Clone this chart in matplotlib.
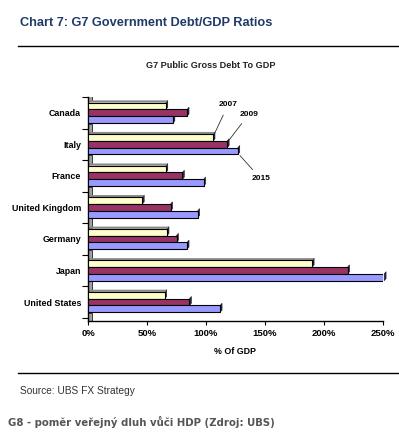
import numpy as np
import matplotlib
matplotlib.use('Agg')
import matplotlib.pyplot as plt
from matplotlib.patches import Polygon, Rectangle

# data (% of GDP)
countries = ['Canada', 'Italy', 'France', 'United Kingdom', 'Germany', 'Japan', 'United States']
debt_2007 = [66, 106, 66, 46, 67, 190, 65]
debt_2009 = [84, 118, 80, 70, 75, 220, 86]
debt_2015 = [72, 127, 98, 93, 84, 251, 112]
years = ['2007', '2009', '2015']
x_ticks = [0, 50, 100, 150, 200, 250]

colors = ['#FFFFCC', '#993366', '#9999FF']
narrow = ['Liberation Sans Narrow', 'Liberation Sans', 'DejaVu Sans']

fig = plt.figure(figsize=(3.99, 4.33), dpi=100)
W, H = 399, 433

def fx(px):
    return px / W

def fy(py):
    return 1 - py / H

# header
fig.text(fx(20), fy(23), 'Chart 7: G7 Government Debt/GDP Ratios', family=narrow,
         fontsize=9.2, fontweight='bold', color='#1F3A68', va='center', ha='left')
fig.add_artist(plt.Line2D([fx(18), 1], [fy(46), fy(46)], color='black', lw=1))
fig.text(fx(211), fy(65), 'G7 Public Gross Debt To GDP', family=narrow,
         fontsize=6.6, fontweight='bold', color='#222222', va='center', ha='center')

ax = fig.add_axes([fx(88), fy(321), fx(295), (321 - 97) / H])

bh = 0.215
y = np.arange(len(countries))
series = [debt_2007, debt_2009, debt_2015]
dx, dy = 1.6, 0.07
for i, vals in enumerate(series):
    ys = y + (i - 1) * bh
    ax.barh(ys, vals, height=bh, color=colors[i], edgecolor='black', lw=0.8, zorder=3)
    for yy, v in zip(ys, vals):
        top = yy - bh / 2
        bot = yy + bh / 2
        # 3d side face
        ax.add_patch(Polygon([(v, top), (v + dx, top - dy), (v + dx, bot - dy), (v, bot)],
                             closed=True, facecolor='#2A2A55', edgecolor='#111111', lw=0.4,
                             zorder=2, clip_on=False))
        if i == 0:
            ax.add_patch(Polygon([(0, top), (dx, top - dy), (v + dx, top - dy), (v, top)],
                                 closed=True, facecolor='#8A8A8A', edgecolor='none',
                                 zorder=2, clip_on=False))

# grey wall slivers in gaps between groups
for k in range(-1, len(countries)):
    ax.add_patch(Rectangle((0, k + 1.5 * bh + 0.02), 3, 1 - 3 * bh - 0.06,
                           facecolor='#A0A0A0', edgecolor='black', lw=0.5, zorder=1))

ax.set_ylim(6.6, -0.5)
ax.set_xlim(0, 250)
ax.set_yticks(y)
ax.set_yticklabels(countries, family=narrow, fontsize=6.4, fontweight='bold')
ax.set_yticks(np.arange(-0.5, 6.6, 1), minor=True)
ax.tick_params(axis='y', which='major', length=0, pad=5)
ax.tick_params(axis='y', which='minor', length=4, width=0.8)
ax.set_xticks(x_ticks)
ax.set_xticklabels([f'{t}%' for t in x_ticks], family=narrow, fontsize=6.8, fontweight='bold')
ax.tick_params(axis='x', length=3, width=0.8, pad=3)
ax.set_xlabel('% Of GDP', family=narrow, fontsize=6.4, fontweight='bold', labelpad=6)
for s in ['top', 'right']:
    ax.spines[s].set_visible(False)
ax.spines['left'].set_linewidth(1)
ax.spines['bottom'].set_linewidth(1)

# year labels pointing at the Italy bars
arrow = dict(arrowstyle='-', lw=0.6, color='#333333', shrinkA=3, shrinkB=1)
ax.annotate(years[0], xy=(debt_2007[1] + 1, 1 - 1.5 * bh), xytext=(228, H - 105),
            textcoords='figure pixels', fontsize=6, family=narrow, fontweight='bold',
            ha='center', va='center', arrowprops=arrow)
ax.annotate(years[1], xy=(debt_2009[1] + 1, 1 - 0.5 * bh), xytext=(249, H - 114),
            textcoords='figure pixels', fontsize=6, family=narrow, fontweight='bold',
            ha='center', va='center', arrowprops=arrow)
ax.annotate(years[2], xy=(debt_2015[1] + 1, 1 + 1.5 * bh), xytext=(261, H - 179),
            textcoords='figure pixels', fontsize=6, family=narrow, fontweight='bold',
            ha='center', va='center', arrowprops=arrow)

fig.add_artist(plt.Line2D([fx(18), 1], [fy(373), fy(373)], color='black', lw=1))
fig.text(fx(20), fy(391), 'Source: UBS FX Strategy', family=['Liberation Sans', 'DejaVu Sans'],
         fontsize=7.3, color='#333333', va='center', ha='left')
fig.text(fx(8), fy(422), 'G8 - poměr veřejný dluh vůči HDP (Zdroj: UBS)', family='DejaVu Sans',
         fontsize=7.3, fontweight='bold', color='#555555', va='center', ha='left')

fig.savefig('out.png', dpi=100)
